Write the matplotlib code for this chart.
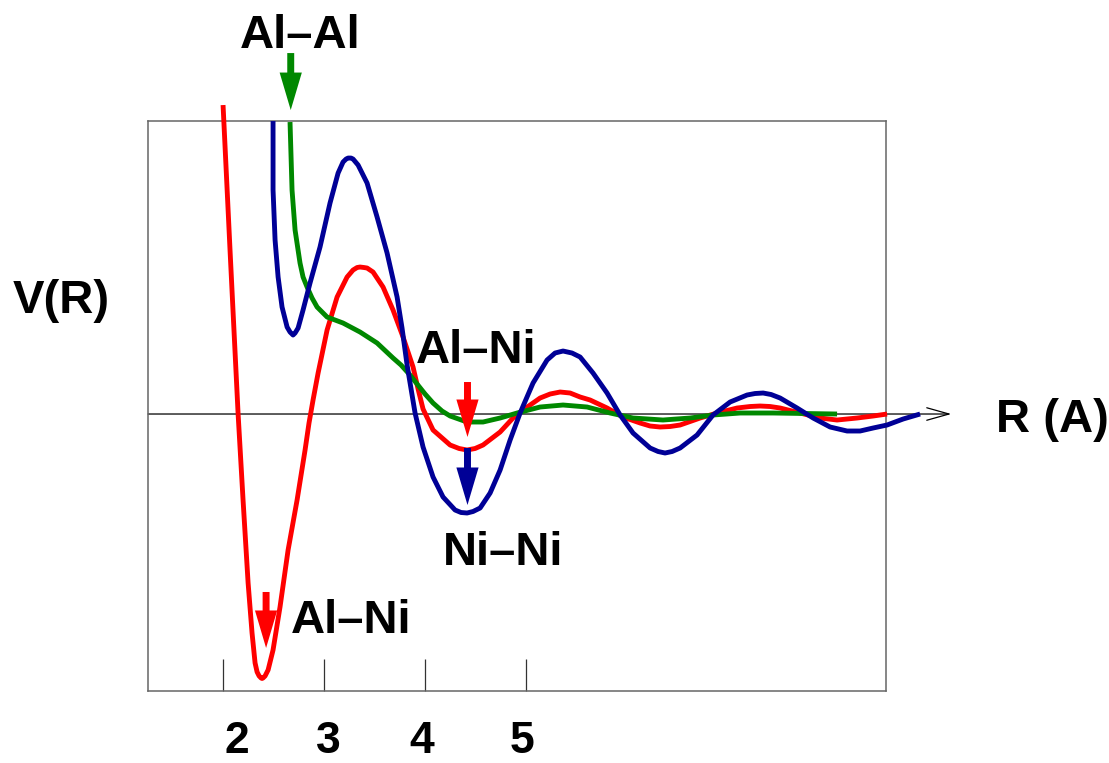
import matplotlib.pyplot as plt

plt.rcParams['font.family'] = ['Liberation Sans', 'DejaVu Sans']

# Al-Ni pair potential (red)
r_alni = [2.000, 2.069, 2.149, 2.198, 2.248, 2.287, 2.317, 2.337, 2.357, 2.376, 2.386, 2.396,
          2.416, 2.446, 2.495, 2.564, 2.644, 2.733, 2.812, 2.851, 2.891, 2.941, 3.030, 3.129,
          3.228, 3.287, 3.327, 3.356, 3.396, 3.426, 3.485, 3.584, 3.683, 3.782, 3.881, 3.931,
          3.980, 4.079, 4.248, 4.337, 4.416, 4.495, 4.574, 4.743, 4.871, 4.970, 5.139, 5.238,
          5.337, 5.436, 5.535, 5.634, 5.802, 5.960, 6.129, 6.228, 6.327, 6.426, 6.525, 6.723,
          6.891, 7.089, 7.218, 7.317, 7.416, 7.515, 7.713, 7.911, 8.079, 8.277, 8.436, 8.574]
v_alni = [3.09, 1.64, 0.00, -0.86, -1.69, -2.19, -2.49, -2.58, -2.62, -2.64, -2.645, -2.64,
          -2.62, -2.56, -2.36, -1.93, -1.36, -0.86, -0.36, -0.09, 0.14, 0.41, 0.84, 1.17,
          1.37, 1.44, 1.465, 1.47, 1.465, 1.46, 1.42, 1.27, 1.04, 0.77, 0.47, 0.25,
          0.05, -0.16, -0.31, -0.345, -0.36, -0.345, -0.31, -0.18, -0.04, 0.04, 0.16, 0.20,
          0.22, 0.21, 0.17, 0.14, 0.06, -0.03, -0.09, -0.12, -0.13, -0.125, -0.11, -0.04,
          0.01, 0.06, 0.075, 0.08, 0.075, 0.06, 0.01, -0.04, -0.06, -0.04, -0.02, 0.00]

# Ni-Ni pair potential (blue)
r_nini = [2.495, 2.495, 2.515, 2.545, 2.584, 2.634, 2.663, 2.693, 2.713, 2.743, 2.792, 2.861,
          2.960, 3.059, 3.139, 3.188, 3.218, 3.238, 3.267, 3.287, 3.337, 3.426, 3.525, 3.624,
          3.723, 3.772, 3.822, 3.901, 3.980, 4.079, 4.178, 4.297, 4.356, 4.416, 4.475, 4.545,
          4.644, 4.743, 4.842, 4.941, 5.069, 5.208, 5.287, 5.366, 5.455, 5.535, 5.663, 5.802,
          5.931, 6.059, 6.228, 6.307, 6.376, 6.446, 6.525, 6.693, 6.851, 7.020, 7.188, 7.267,
          7.347, 7.426, 7.515, 7.683, 7.842, 8.010, 8.178, 8.307, 8.436, 8.574, 8.733, 8.901]
v_nini = [2.93, 2.24, 1.74, 1.37, 1.07, 0.87, 0.82, 0.79, 0.81, 0.86, 1.04, 1.31,
          1.67, 2.11, 2.41, 2.52, 2.55, 2.56, 2.56, 2.55, 2.49, 2.31, 1.97, 1.61,
          1.17, 0.86, 0.49, 0.01, -0.33, -0.63, -0.83, -0.96, -0.985, -0.99, -0.975, -0.94,
          -0.79, -0.56, -0.26, 0.01, 0.31, 0.54, 0.61, 0.63, 0.61, 0.57, 0.41, 0.21,
          -0.01, -0.19, -0.34, -0.375, -0.39, -0.375, -0.34, -0.21, -0.01, 0.12, 0.19, 0.205,
          0.21, 0.195, 0.16, 0.06, -0.04, -0.13, -0.17, -0.17, -0.14, -0.11, -0.05, 0.00]

# Al-Al pair potential (green)
r_alal = [2.663, 2.683, 2.713, 2.762, 2.792, 2.832, 2.881, 2.931, 3.030, 3.188, 3.356, 3.525,
          3.683, 3.762, 3.851, 3.921, 4.000, 4.079, 4.168, 4.248, 4.416, 4.574, 4.743, 4.911,
          5.139, 5.366, 5.604, 5.832, 6.059, 6.356, 6.624, 6.851, 7.119, 7.446, 8.079]
v_alal = [2.92, 2.24, 1.84, 1.51, 1.37, 1.27, 1.16, 1.07, 0.97, 0.91, 0.82, 0.71,
          0.56, 0.49, 0.39, 0.30, 0.20, 0.11, 0.03, -0.02, -0.08, -0.08, -0.04, 0.01,
          0.07, 0.09, 0.07, 0.01, -0.04, -0.06, -0.04, -0.01, 0.01, 0.01, 0.00]

tick_pos = [2, 3, 4, 5]
tick_lab = ['2', '3', '4', '5']
tick_lab_x = [2.139, 3.040, 3.970, 4.960]

red = '#ff0000'
blue = '#000096'
green = '#008800'

fig = plt.figure(figsize=(11.09, 7.63), dpi=100)
ax = fig.add_axes([0.1335, 0.0944, 0.6655, 0.7476])
ax.set_xlim(1.2574, 8.5644)
ax.set_ylim(-2.77, 2.935)

lkw = dict(lw=3.5, clip_on=False, solid_joinstyle='round', solid_capstyle='butt')
ax.plot(r_alni, v_alni, color=red, zorder=3, **lkw)
ax.plot(r_alal, v_alal, color=green, zorder=4, **lkw)
ax.plot(r_nini, v_nini, color=blue, zorder=5, **lkw)

# zero line with open arrow
ax.annotate('', xy=(9.21, 0), xytext=(1.2574, 0), annotation_clip=False,
            arrowprops=dict(arrowstyle='->,head_length=16,head_width=4.5', mutation_scale=1,
                            color='black', lw=0.9, shrinkA=0, shrinkB=0), zorder=2)

# marker arrows (tail -> tip)
def mark(x, y_tail, y_tip, col):
    ax.annotate('', xy=(x, y_tip), xytext=(x, y_tail), annotation_clip=False,
                arrowprops=dict(arrowstyle='simple,head_length=27,head_width=16,tail_width=5',
                                mutation_scale=1, color=col, lw=0, shrinkA=0, shrinkB=0),
                zorder=6)

mark(2.67, 3.61, 3.04, green)
mark(4.42, 0.32, -0.23, red)
mark(4.42, -0.34, -0.91, blue)
mark(2.426, -1.78, -2.34, red)

tkw = dict(fontsize=34, fontweight='bold', ha='center', va='baseline', clip_on=False)
ax.text(2.76, 3.66, 'Al–Al', **tkw)
ax.text(0.40, 1.01, 'V(R)', **tkw)
ax.text(4.51, 0.51, 'Al–Ni', **tkw)
ax.text(4.77, -1.51, 'Ni–Ni', **tkw)
ax.text(3.27, -2.19, 'Al–Ni', **tkw)
ax.text(10.21, -0.18, 'R (A)', **tkw)

for s in ax.spines.values():
    s.set_color('#666666')
    s.set_linewidth(1.1)

ax.set_xticks(tick_pos)
ax.set_xticklabels([])
ax.tick_params(axis='x', direction='in', length=23, width=0.9, color='#333333')
ax.set_yticks([])
for x, lab in zip(tick_lab_x, tick_lab):
    ax.text(x, -3.39, lab, fontsize=32, fontweight='bold', ha='center', va='baseline',
            clip_on=False)

fig.savefig('out.png', dpi=100)
